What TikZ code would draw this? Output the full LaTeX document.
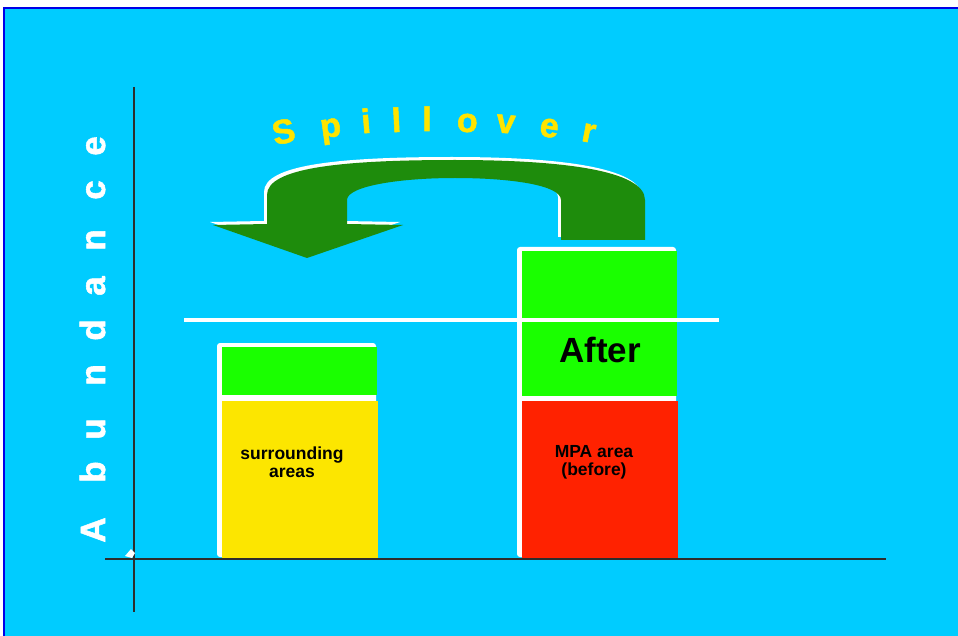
\documentclass[tikz,border=0pt]{standalone}
\usepackage{fontspec}
\setmainfont{Liberation Sans}
\usepackage{tikz}

\definecolor{skyback}{RGB}{0,204,255}
\definecolor{frameblue}{RGB}{0,0,230}
\definecolor{barlime}{RGB}{26,255,0}
\definecolor{baryellow}{RGB}{252,230,0}
\definecolor{barred}{RGB}{255,34,0}
\definecolor{arrowgreen}{RGB}{30,140,12}
\definecolor{spillyellow}{RGB}{255,228,0}
\definecolor{axisgray}{RGB}{45,45,45}

\begin{document}
\begin{tikzpicture}[x=1pt,y=-1pt,
  barlabel/.style={font=\bfseries\fontsize{17.5}{18}\selectfont, align=center, text=black},
  spill/.style={font=\bfseries\fontsize{34}{34}\selectfont\addfontfeature{FakeBold=1.5}, text=spillyellow, anchor=base, inner sep=0pt},
  abund/.style={font=\bfseries\fontsize{35}{35}\selectfont\addfontfeature{FakeBold=1.5}, text=white, anchor=base, rotate=90, inner sep=0pt},
  axisline/.style={draw=axisgray, line width=2.2pt}]
  \useasboundingbox (0,0) rectangle (958,636);

  %% Backdrop and frame
  \fill[white] (0,0) rectangle (958,636);
  \fill[skyback] (4,8.5) rectangle (958,636);
  \draw[frameblue, line width=2pt] (4,636) -- (4,8.5) -- (958,8.5);

  %% Bars: white edge behind, then the coloured parts
  \fill[white, rounded corners=3] (217,343) rectangle (376,557);
  \fill[barlime] (222,347) rectangle (377,395);
  \fill[baryellow] (222,401) rectangle (378,558);
  \fill[white, rounded corners=3] (517,247) rectangle (676,557);
  \fill[barlime] (522,251) rectangle (677,396);
  \fill[barred] (522,401) rectangle (678,558);

  %% Level line
  \draw[white, line width=4pt] (184,320) -- (719,320);

  %% Spillover arrow (white offset copy, then green)
  \foreach \sh/\col in {-3/white, 0/arrowgreen} {
    \fill[\col, shift={(\sh,\sh)}]
      (645,240) -- (645,200) .. controls (645,170) and (560,160) ..
      (455,160) .. controls (340,160) and (267,168) ..
      (267,195) -- (267,224) -- (213,225) -- (307,258) -- (403,225) --
      (347,224) -- (347,200) .. controls (347,186) and (400,178) ..
      (455,178) .. controls (510,178) and (561,185) ..
      (561,200) -- (561,240) -- cycle;
  }

  %% Axes
  \draw[axisline] (134,87) -- (134,612);
  \draw[axisline] (105,559) -- (886,559);
  \fill[white] (125,556) -- (131,549) -- (135,553) -- (132,558) -- cycle;

  %% Labels
  \node[barlabel] (surround) at (292,462) {surrounding\\areas};
  \node[barlabel] (mpa) at (594,462) {MPA area\\(before)};
  \node[font=\bfseries\fontsize{35}{35}\selectfont, inner sep=0pt] (after) at (600,349.5) {After};

  \foreach \ch/\px/\py/\rt [count=\k] in {S/286/143/12, p/332/137/8, i/367/133/5,
      l/397/132/3, l/427/131/0, o/467/132/-2, v/505/133/-5, e/548/137/-8, r/587/142/-11}
    \node[spill, rotate=\rt] (spill\k) at (\px,\py) {\ch};

  \foreach \ch/\py [count=\k] in {A/530, b/472, u/429, n/375, d/330, a/286, n/240, c/190, e/146}
    \node[abund] (abund\k) at (105,\py) {\ch};
\end{tikzpicture}
\end{document}
